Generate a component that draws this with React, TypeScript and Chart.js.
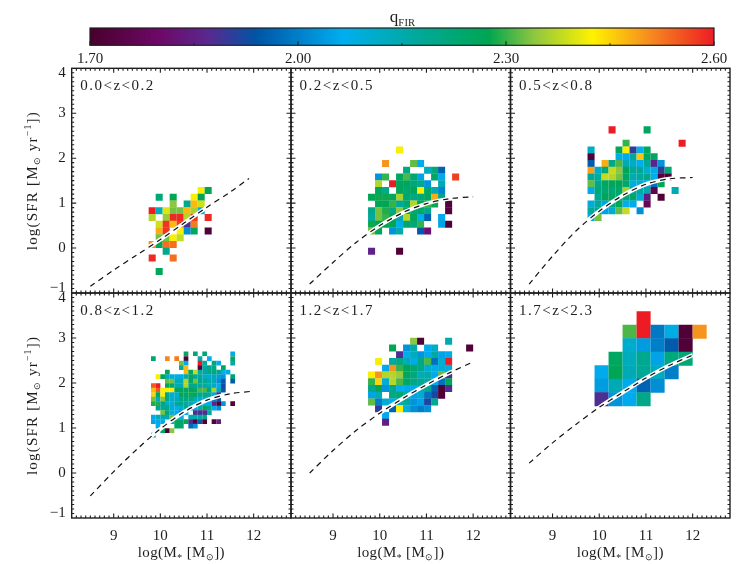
import React, { useEffect, useRef } from "react";
import { Chart, registerables } from "chart.js";

Chart.register(...registerables);

const FONT = '"Liberation Serif", serif';
const INK = "#1e1e1e";

const massTicks = [9, 10, 11, 12];
const sfrTicks = [-1, 0, 1, 2, 3, 4];
const qTicks = [1.7, 2.0, 2.3, 2.6];
const qMinorTicks = [1.85, 2.15, 2.45];
const qRange = [1.7, 2.6];

const panelLabels = ["0.0<z<0.2", "0.2<z<0.5", "0.5<z<0.8", "0.8<z<1.2", "1.2<z<1.7", "1.7<z<2.3"];

// centres of the mass bins
const massA = [9.825, 9.975, 10.125, 10.275, 10.425, 10.575, 10.725, 10.875, 11.025, 11.175, 11.325, 11.475, 11.625, 11.775, 11.925];
const massB = [9.85, 9.95, 10.05, 10.15, 10.25, 10.35, 10.45, 10.55, 10.65, 10.75, 10.85, 10.95, 11.05, 11.15, 11.25, 11.35, 11.45, 11.55];
const massC = [10.05, 10.35, 10.65, 10.95, 11.25, 11.55, 11.85, 12.15];

// each row: [log SFR of the bin, { mass bin index: qFIR }]
type Row = [number, Record<number, number>];

const rows1: Row[] = [
  [1.28, { 7: 2.42, 8: 2.27 }],
  [1.13, { 1: 2.22, 3: 2.27, 6: 2.42, 7: 2.27 }],
  [0.98, { 3: 2.34, 5: 2.2, 6: 2.47, 7: 2.39 }],
  [0.83, { 0: 2.6, 1: 2.13, 2: 2.4, 3: 2.33, 4: 2.33, 5: 2.47, 6: 2.36, 7: 2.06 }],
  [0.68, { 0: 2.37, 2: 2.35, 3: 2.59, 4: 2.59, 5: 2.37, 6: 2.58, 8: 2.59 }],
  [0.53, { 1: 2.39, 2: 2.58, 3: 2.47, 4: 2.57, 5: 1.88, 6: 2.52 }],
  [0.38, { 1: 2.48, 2: 2.58, 4: 2.42, 5: 2.02, 6: 2.25, 8: 1.72 }],
  [0.23, { 1: 2.33, 2: 2.33, 3: 2.42, 4: 2.38 }],
  [0.08, { 0: 2.5, 1: 2.26, 2: 2.53, 3: 2.53 }],
  [-0.07, { 2: 2.2 }],
  [-0.22, { 0: 2.59, 3: 2.53 }],
  [-0.52, { 1: 2.26 }],
];

const rows2: Row[] = [
  [2.18, { 4: 2.42 }],
  [1.88, { 2: 2.5, 6: 2.32, 7: 2.06 }],
  [1.73, { 5: 2.2, 8: 2.13, 9: 2.22, 10: 1.96 }],
  [1.58, { 1: 2.03, 2: 2.3, 4: 2.25, 5: 2.31, 6: 2.23, 7: 2.05, 9: 2.25, 10: 2.06, 12: 2.57 }],
  [1.43, { 1: 2.37, 3: 2.6, 4: 2.26, 5: 2.26, 6: 2.22, 7: 2.19, 8: 2.03, 10: 2.14 }],
  [1.28, { 1: 2.26, 2: 2.2, 4: 2.26, 5: 2.23, 6: 2.27, 7: 2.42, 8: 2.24, 9: 2.14, 10: 2.01 }],
  [1.13, { 0: 2.27, 1: 2.28, 2: 2.28, 3: 2.25, 4: 2.36, 5: 2.24, 6: 2.2, 7: 2.22, 8: 2.25, 9: 2.48, 10: 2.2 }],
  [0.98, { 1: 2.27, 2: 2.27, 3: 2.3, 4: 2.18, 5: 2.23, 6: 2.37, 7: 2.27, 8: 2.3, 9: 2.28, 11: 1.73 }],
  [0.83, { 0: 2.2, 1: 2.33, 2: 2.29, 3: 2.2, 4: 2.34, 5: 2.25, 6: 2.22, 7: 2.25, 8: 2.2, 11: 1.73 }],
  [0.68, { 0: 2.17, 1: 2.33, 2: 2.3, 3: 2.27, 4: 2.15, 5: 2.37, 6: 2.27, 7: 2.07, 8: 1.96, 10: 2.06 }],
  [0.53, { 0: 2.28, 1: 2.27, 2: 2.27, 3: 2.27, 4: 2.07, 5: 2.24, 6: 2.22, 7: 2.3, 10: 2.05, 11: 1.72 }],
  [0.38, { 0: 2.33, 1: 2.26, 3: 2.03, 4: 2.15, 7: 1.95, 8: 1.82 }],
  [-0.07, { 0: 1.86, 4: 1.72 }],
];

const rows3: Row[] = [
  [2.63, { 3: 2.6, 8: 2.26 }],
  [2.33, { 5: 2.3, 13: 2.6 }],
  [2.18, { 0: 2.12, 4: 2.26, 5: 2.42, 6: 1.9, 7: 2.07, 8: 2.26 }],
  [2.03, { 0: 1.72, 4: 2.08, 5: 2.06, 6: 2.17, 7: 2.46, 8: 2.25, 9: 2.25 }],
  [1.88, { 0: 1.95, 2: 2.48, 3: 2.2, 4: 2.31, 5: 2.14, 6: 2.12, 7: 2.07, 8: 2.18, 9: 1.86, 10: 2.03 }],
  [1.73, { 0: 2.49, 1: 2.12, 2: 2.22, 3: 2.38, 4: 2.34, 5: 2.27, 6: 2.18, 7: 2.18, 8: 2.1, 9: 2.08, 10: 1.9, 11: 2.22 }],
  [1.58, { 0: 2.18, 1: 2.17, 2: 2.38, 3: 2.37, 4: 2.33, 5: 2.25, 6: 2.15, 7: 2.17, 8: 2.2, 9: 2.07, 10: 1.72, 11: 1.72 }],
  [1.43, { 0: 2.32, 1: 2.2, 2: 2.25, 3: 2.26, 4: 2.27, 5: 2.24, 6: 2.1, 7: 2.1, 8: 2.1, 9: 1.98, 10: 2.26 }],
  [1.28, { 0: 2.06, 1: 2.22, 2: 2.23, 3: 2.23, 4: 2.24, 5: 2.36, 6: 2.16, 7: 2.16, 8: 2.15, 9: 1.76, 12: 2.14 }],
  [1.13, { 1: 2.18, 2: 2.27, 3: 2.25, 4: 2.22, 5: 2.22, 6: 2.24, 7: 2.1, 8: 1.84, 10: 1.72 }],
  [0.98, { 0: 2.1, 1: 2.17, 2: 2.05, 3: 2.2, 4: 2.26, 5: 2.07, 6: 2.06, 8: 1.77 }],
  [0.83, { 0: 2.17, 1: 2.2, 2: 2.05, 3: 2.1, 4: 2.32, 5: 2.38, 7: 2.02 }],
  [0.68, { 0: 2.06, 1: 2.33 }],
];

const rows4: Row[] = [
  [2.65, { 7: 2.25, 9: 2.22, 11: 2.23, 17: 2.06 }],
  [2.54, { 0: 2.24, 3: 2.51, 5: 2.52, 7: 1.72, 10: 2.15, 12: 2.07, 17: 2.24 }],
  [2.44, { 6: 2.33, 7: 2.06, 10: 2.6, 11: 2.17, 13: 2.22, 14: 2.07, 17: 2.15 }],
  [2.34, { 6: 2.17, 7: 2.47, 10: 1.72, 11: 2.16, 12: 2.2, 13: 2.2, 15: 2.27 }],
  [2.24, { 3: 2.27, 7: 2.47, 8: 2.25, 9: 2.38, 10: 2.16, 11: 2.17, 12: 2.2, 13: 2.21, 14: 2.2, 15: 2.08, 16: 2.06 }],
  [2.14, { 1: 2.42, 2: 2.26, 3: 2.12, 4: 2.1, 5: 2.07, 6: 2.06, 7: 2.15, 8: 2.25, 9: 2.18, 10: 2.17, 11: 2.12, 12: 2.1, 13: 2.14, 14: 2.04, 15: 2.03, 17: 2.24 }],
  [2.04, { 3: 2.32, 4: 2.33, 5: 2.14, 6: 2.14, 7: 2.37, 8: 2.24, 9: 2.33, 10: 2.2, 11: 2.18, 12: 2.15, 13: 2.14, 14: 2.02, 15: 1.95, 17: 1.95 }],
  [1.94, { 0: 2.55, 1: 2.6, 3: 2.26, 4: 2.24, 5: 2.14, 6: 2.14, 7: 2.37, 8: 2.2, 9: 2.18, 10: 2.17, 11: 2.16, 12: 2.14, 13: 2.12, 14: 2.06, 15: 1.92 }],
  [1.84, { 0: 2.47, 1: 2.55, 2: 2.42, 3: 2.42, 4: 2.42, 5: 2.26, 6: 2.26, 7: 2.24, 8: 2.26, 9: 2.24, 10: 2.31, 11: 2.31, 12: 2.22, 13: 2.36, 14: 2.14, 15: 1.95 }],
  [1.74, { 0: 2.45, 1: 2.25, 2: 2.42, 3: 2.2, 4: 2.1, 5: 2.1, 6: 2.27, 7: 2.25, 8: 2.28, 9: 2.25, 10: 2.2, 11: 2.2, 12: 2.18, 13: 2.1, 14: 1.9 }],
  [1.64, { 0: 2.33, 1: 2.13, 2: 2.34, 3: 2.2, 4: 2.1, 5: 2.14, 6: 2.2, 7: 2.2, 8: 2.2, 9: 2.14, 10: 2.1, 11: 2.1, 12: 2.07, 13: 2.0, 14: 1.95 }],
  [1.54, { 0: 2.29, 1: 2.29, 2: 2.2, 3: 2.13, 4: 2.08, 5: 2.18, 6: 2.2, 7: 2.17, 8: 2.14, 9: 2.1, 10: 2.07, 11: 2.07, 12: 2.06, 13: 1.86, 14: 1.72, 15: 2.03, 17: 1.72 }],
  [1.44, { 1: 2.2, 2: 2.18, 3: 2.2, 4: 2.1, 5: 2.07, 6: 2.12, 7: 2.2, 8: 2.1, 9: 2.06, 10: 2.14, 11: 2.25, 12: 2.2, 13: 2.06, 14: 2.02 }],
  [1.34, { 2: 2.33, 3: 2.22, 4: 2.08, 5: 2.06, 6: 2.03, 7: 2.06, 9: 1.88, 10: 1.88, 11: 1.88, 12: 2.16 }],
  [1.24, { 0: 2.06, 1: 2.14, 2: 2.14, 3: 2.14, 4: 2.33, 5: 2.2, 6: 2.07, 8: 2.15, 9: 2.14, 10: 2.16, 11: 2.2 }],
  [1.14, { 0: 2.05, 1: 2.06, 2: 2.06, 4: 2.06, 5: 2.25, 6: 2.26, 7: 2.26, 8: 1.88, 9: 1.72, 10: 1.95, 11: 1.72, 13: 1.72, 14: 1.85 }],
  [1.04, { 1: 2.06, 5: 2.25, 6: 2.24, 8: 1.97, 9: 2.03 }],
  [0.94, { 2: 2.25, 3: 1.72, 4: 2.34 }],
  [0.84, { 0: 2.25 }],
];

const rows5: Row[] = [
  [2.93, { 6: 2.34, 7: 1.72, 11: 2.15 }],
  [2.78, { 3: 2.27, 5: 2.03, 6: 2.15, 8: 2.06, 9: 2.12, 14: 1.72 }],
  [2.63, { 4: 1.88, 5: 2.07, 6: 2.13, 7: 2.03, 8: 2.06, 9: 2.17, 10: 2.05, 11: 2.06 }],
  [2.48, { 1: 2.42, 3: 2.17, 4: 2.2, 5: 2.14, 6: 2.08, 7: 2.2, 8: 2.31, 9: 1.98, 10: 2.1, 11: 2.6 }],
  [2.33, { 2: 2.06, 3: 2.5, 4: 2.3, 5: 2.27, 6: 2.23, 7: 2.2, 8: 2.1, 9: 2.08, 10: 2.1, 11: 2.1 }],
  [2.18, { 0: 2.43, 1: 2.5, 2: 2.37, 3: 2.37, 4: 2.35, 5: 2.25, 6: 2.22, 7: 2.13, 8: 2.15, 9: 2.06, 10: 2.32, 11: 1.88 }],
  [2.03, { 0: 2.3, 1: 2.45, 2: 2.1, 3: 2.37, 4: 2.31, 5: 2.25, 6: 2.2, 7: 2.18, 8: 2.16, 9: 2.08, 10: 1.98, 11: 2.26 }],
  [1.88, { 0: 2.2, 1: 2.27, 2: 2.03, 3: 2.2, 4: 2.07, 5: 2.06, 6: 2.06, 7: 2.13, 8: 2.18, 9: 1.96, 10: 1.72, 11: 1.88 }],
  [1.73, { 0: 2.05, 1: 2.14, 3: 2.2, 4: 2.23, 5: 2.17, 6: 2.05, 7: 2.1, 8: 1.98, 9: 1.92, 10: 1.72 }],
  [1.58, { 0: 2.32, 1: 2.0, 2: 2.1, 3: 2.07, 4: 2.13, 5: 2.18, 6: 2.03, 7: 2.05, 8: 1.92, 9: 2.18 }],
  [1.43, { 1: 1.9, 3: 1.96, 4: 2.42, 5: 2.08, 6: 2.02, 7: 2.0, 8: 2.02 }],
  [1.28, { 2: 2.06 }],
  [1.13, { 2: 1.85 }],
];

const rows6: Row[] = [
  [3.44, { 3: 2.6 }],
  [3.14, { 2: 2.31, 3: 2.6, 4: 1.99, 5: 2.08, 6: 1.72, 7: 2.5 }],
  [2.84, { 2: 2.11, 3: 2.04, 4: 2.0, 5: 1.95, 6: 1.72 }],
  [2.54, { 1: 2.25, 2: 2.13, 3: 2.19, 4: 2.05, 5: 2.21, 6: 2.22 }],
  [2.24, { 0: 2.06, 1: 2.27, 2: 2.14, 3: 2.18, 4: 2.13, 5: 2.0 }],
  [1.94, { 0: 2.04, 1: 2.14, 2: 2.06, 3: 1.96, 4: 2.02 }],
  [1.64, { 0: 1.88, 1: 2.03, 2: 2.06, 3: 2.2 }],
];

// main-sequence curves
const curveMass = [8.5, 9, 9.5, 10, 10.5, 11, 11.5, 12];
const curveMass1 = [8.5, 9, 9.5, 10, 10.5, 11, 11.5, 11.9];
const curve1 = [-0.85, -0.49, -0.15, 0.19, 0.55, 0.91, 1.25, 1.55];
const curve2 = [-0.8, -0.32, 0.13, 0.5, 0.79, 0.99, 1.1, 1.14];
const curve3 = [-0.8, -0.18, 0.38, 0.82, 1.17, 1.42, 1.54, 1.57];
const curve4 = [-0.51, 0.03, 0.53, 0.98, 1.35, 1.62, 1.76, 1.82];
const curve5 = [0.0, 0.5, 0.95, 1.33, 1.66, 1.96, 2.23, 2.47];
const curve6 = [0.22, 0.67, 1.08, 1.46, 1.79, 2.11, 2.39, 2.62];

const panels = [
  { rows: rows1, mass: massA, bin: 0.15, curveX: curveMass1, curve: curve1, col: 0, row: 0 },
  { rows: rows2, mass: massA, bin: 0.15, curveX: curveMass, curve: curve2, col: 1, row: 0 },
  { rows: rows3, mass: massA, bin: 0.15, curveX: curveMass, curve: curve3, col: 2, row: 0 },
  { rows: rows4, mass: massB, bin: 0.1, curveX: curveMass, curve: curve4, col: 0, row: 1 },
  { rows: rows5, mass: massA, bin: 0.15, curveX: curveMass, curve: curve5, col: 1, row: 1 },
  { rows: rows6, mass: massC, bin: 0.3, curveX: curveMass, curve: curve6, col: 2, row: 1 },
];

// colour bar stops: [qFIR, colour]
const colourStops: [number, number[]][] = [
  [1.7, [72, 0, 44]],
  [1.8, [110, 8, 104]],
  [1.87, [90, 40, 142]],
  [1.94, [0, 84, 166]],
  [2.065, [0, 174, 239]],
  [2.17, [0, 169, 157]],
  [2.275, [0, 166, 81]],
  [2.34, [141, 198, 63]],
  [2.425, [255, 242, 0]],
  [2.5, [247, 148, 29]],
  [2.6, [237, 28, 36]],
];

function qColour(q: number): string {
  for (let i = 1; i < colourStops.length; i++) {
    const [b, cb] = colourStops[i];
    const [a, ca] = colourStops[i - 1];
    if (q <= b) {
      const t = Math.max(0, (q - a) / (b - a));
      const c = ca.map((v, k) => Math.round(v + (cb[k] - v) * t));
      return `rgb(${c[0]},${c[1]},${c[2]})`;
    }
  }
  return "rgb(237,28,36)";
}

// layout
const colEdges = [71.7, 291, 510.5, 730];
const rowEdges = [68.3, 293, 518];
const BAR = { left: 90, right: 714, top: 28, bottom: 45.3 };
const PAGE_W = 752;
const PAGE_H = 564;

type Run = { t: string; s?: number; dy?: number };

function drawRuns(ctx: CanvasRenderingContext2D, runs: Run[], cx: number, cy: number, size: number, rotate: boolean, spacing: number) {
  ctx.save();
  ctx.translate(cx, cy);
  if (rotate) ctx.rotate(-Math.PI / 2);
  ctx.fillStyle = INK;
  ctx.textBaseline = "alphabetic";
  ctx.textAlign = "left";
  (ctx as any).letterSpacing = spacing + "px";
  const fontFor = (r: Run) => `${size * (r.s ?? 1)}px ${FONT}`;
  let w = 0;
  for (const r of runs) {
    ctx.font = fontFor(r);
    w += ctx.measureText(r.t).width;
  }
  let x = -w / 2;
  for (const r of runs) {
    ctx.font = fontFor(r);
    ctx.fillText(r.t, x, r.dy ?? 0);
    x += ctx.measureText(r.t).width;
  }
  ctx.restore();
}

const xTitleRuns: Run[] = [{ t: "log(M" }, { t: "*", s: 0.65, dy: 4 }, { t: " [M" }, { t: "⊙", s: 0.6, dy: 3 }, { t: "])" }];
const yTitleRuns: Run[] = [{ t: "log(SFR [M" }, { t: "⊙", s: 0.6, dy: 3 }, { t: " yr" }, { t: "−1", s: 0.65, dy: -6 }, { t: "])" }];
const qTitleRuns: Run[] = [{ t: "q" }, { t: "FIR", s: 0.62, dy: 4 }];

function PanelChart({ index }: { index: number }) {
  const ref = useRef<HTMLCanvasElement>(null);
  useEffect(() => {
    const p = panels[index];
    const left = colEdges[p.col];
    const right = colEdges[p.col + 1];
    const top = rowEdges[p.row];
    const bottom = rowEdges[p.row + 1];
    const showY = p.col === 0;
    const showX = p.row === 1;

    const cells = p.rows.flatMap(([y, byCol]) =>
      Object.entries(byCol).map(([c, q]) => ({ x: p.mass[Number(c)], y, q }))
    );
    const curvePoints = p.curveX.map((x, i) => ({ x, y: p.curve[i] }));

    const frame = {
      id: "frame",
      afterDatasetsDraw(chart: any) {
        const { ctx, chartArea: a, scales } = chart;
        const mark = (x0: number, y0: number, x1: number, y1: number) => {
          ctx.moveTo(x0, y0);
          ctx.lineTo(x1, y1);
        };
        ctx.save();
        ctx.strokeStyle = INK;
        ctx.lineWidth = 1.1;
        ctx.beginPath();
        for (let v = 8.2; v < 12.75; v += 0.1) {
          const px = scales.x.getPixelForValue(v);
          const major = massTicks.some((m) => Math.abs(m - v) < 0.01);
          const len = major ? 4.5 : 2.5;
          mark(px, a.bottom, px, a.bottom - len);
          mark(px, a.top, px, a.top + len);
        }
        for (let v = -0.9; v < 3.95; v += 0.1) {
          const py = scales.y.getPixelForValue(v);
          const major = sfrTicks.some((m) => Math.abs(m - v) < 0.01);
          const len = major ? 4.5 : 2.5;
          mark(a.left, py, a.left + len, py);
          mark(a.right, py, a.right - len, py);
        }
        ctx.stroke();
        ctx.lineWidth = 1.4;
        ctx.strokeRect(a.left, a.top, a.right - a.left, a.bottom - a.top);
        ctx.restore();

        ctx.save();
        ctx.fillStyle = INK;
        ctx.font = `15px ${FONT}`;
        (ctx as any).letterSpacing = "1.5px";
        ctx.textBaseline = "middle";
        ctx.textAlign = "left";
        ctx.fillText(panelLabels[index], a.left + 8.5, a.top + 18);
        ctx.restore();

        if (showX) drawRuns(ctx, xTitleRuns, (a.left + a.right) / 2, 557, 15, false, 0.4);
        if (showY) drawRuns(ctx, yTitleRuns, 37, (a.top + a.bottom) / 2, 15, true, 1.2);
      },
    };

    const chart = new Chart(ref.current!, {
      type: "scatter",
      plugins: [frame],
      data: {
        datasets: [
          {
            label: "qFIR",
            data: cells,
            order: 3,
            pointStyle: "rect",
            pointBorderWidth: 0,
            pointBackgroundColor: (c: any) => qColour(c.raw?.q ?? 2),
            pointRadius: (c: any) => {
              const s = c.chart.scales.x;
              const w = Math.abs(s.getPixelForValue(10 + p.bin) - s.getPixelForValue(10));
              return (w / 2 + 0.02) / Math.SQRT1_2;
            },
          },
          {
            label: "curve halo",
            data: curvePoints,
            order: 2,
            showLine: true,
            borderColor: "#ffffff",
            borderWidth: 4,
            pointRadius: 0,
            tension: 0.3,
          },
          {
            label: "curve",
            data: curvePoints,
            order: 1,
            showLine: true,
            borderColor: "#111111",
            borderWidth: 1.2,
            borderDash: [5.5, 4.5],
            pointRadius: 0,
            tension: 0.3,
          },
        ],
      } as any,
      options: {
        responsive: false,
        animation: false,
        events: [],
        layout: {
          padding: { left: left - 60, right: PAGE_W - right, top, bottom: PAGE_H - bottom - 40 },
        },
        plugins: { legend: { display: false }, tooltip: { enabled: false }, title: { display: false } },
        scales: {
          x: {
            type: "linear",
            min: 8.1,
            max: 12.8,
            grid: { display: false, drawTicks: false },
            border: { display: false },
            afterBuildTicks: (s: any) => {
              s.ticks = massTicks.map((value) => ({ value }));
            },
            afterFit: (s: any) => {
              s.height = 40;
            },
            ticks: {
              display: showX,
              color: INK,
              padding: 9,
              maxRotation: 0,
              autoSkip: false,
              font: { family: FONT, size: 15 },
              callback: (v: any) => String(v),
            },
          },
          y: {
            type: "linear",
            min: -1,
            max: 4,
            grid: { display: false, drawTicks: false },
            border: { display: false },
            afterBuildTicks: (s: any) => {
              s.ticks = sfrTicks.map((value) => ({ value }));
            },
            afterFit: (s: any) => {
              s.width = 60;
            },
            ticks: {
              display: showY,
              color: INK,
              padding: 6,
              autoSkip: false,
              font: { family: FONT, size: 15, lineHeight: 0.68 },
              callback: (v: any) => {
                if (v === -1) return ["−1", ""];
                if (v === 4) return ["", "4"];
                return String(v);
              },
            },
          },
        },
      } as any,
    });
    return () => chart.destroy();
  }, [index]);
  return <canvas ref={ref} width={PAGE_W} height={PAGE_H} style={{ position: "absolute", left: 0, top: 0 }} />;
}

function ColourBar() {
  const ref = useRef<HTMLCanvasElement>(null);
  useEffect(() => {
    const decor = {
      id: "barFrame",
      afterDatasetsDraw(chart: any) {
        const { ctx, chartArea: a, scales } = chart;
        ctx.save();
        ctx.strokeStyle = INK;
        ctx.lineWidth = 1.1;
        ctx.beginPath();
        for (const v of qTicks) {
          const px = scales.x.getPixelForValue(v);
          ctx.moveTo(px, a.bottom);
          ctx.lineTo(px, a.bottom - 4);
        }
        for (const v of qMinorTicks) {
          const px = scales.x.getPixelForValue(v);
          ctx.moveTo(px, a.bottom);
          ctx.lineTo(px, a.bottom - 2);
        }
        ctx.stroke();
        ctx.lineWidth = 1.2;
        ctx.strokeRect(a.left, a.top, a.right - a.left, a.bottom - a.top);
        ctx.restore();
        drawRuns(ctx, qTitleRuns, (a.left + a.right) / 2 + 0.5, 22, 17, false, 0.2);
      },
    };
    const chart = new Chart(ref.current!, {
      type: "bar",
      plugins: [decor],
      data: {
        labels: ["qFIR"],
        datasets: [
          {
            label: "qFIR scale",
            data: [qRange],
            barPercentage: 1,
            categoryPercentage: 1,
            borderWidth: 0,
            backgroundColor: (c: any) => {
              const { chart: ch } = c;
              const a = ch.chartArea;
              if (!a) return "#888";
              const x = ch.scales.x;
              const g = ch.ctx.createLinearGradient(a.left, 0, a.right, 0);
              for (const [q, rgb] of colourStops) {
                const pos = (x.getPixelForValue(q) - a.left) / (a.right - a.left);
                g.addColorStop(Math.min(1, Math.max(0, pos)), `rgb(${rgb[0]},${rgb[1]},${rgb[2]})`);
              }
              return g;
            },
          },
        ],
      } as any,
      options: {
        indexAxis: "y",
        responsive: false,
        animation: false,
        events: [],
        layout: { padding: { left: BAR.left, right: PAGE_W - BAR.right, top: BAR.top, bottom: PAGE_H - BAR.bottom - 30 } },
        plugins: { legend: { display: false }, tooltip: { enabled: false }, title: { display: false } },
        scales: {
          y: { display: false },
          x: {
            type: "linear",
            min: qRange[0],
            max: qRange[1],
            grid: { display: false, drawTicks: false },
            border: { display: false },
            afterBuildTicks: (s: any) => {
              s.ticks = qTicks.map((value) => ({ value }));
            },
            afterFit: (s: any) => {
              s.height = 30;
            },
            ticks: {
              color: INK,
              padding: 5,
              maxRotation: 0,
              autoSkip: false,
              font: { family: FONT, size: 15 },
              callback: (v: any) => Number(v).toFixed(2),
            },
          },
        },
      } as any,
    });
    return () => chart.destroy();
  }, []);
  return <canvas ref={ref} width={PAGE_W} height={PAGE_H} style={{ position: "absolute", left: 0, top: 0 }} />;
}

export default function App() {
  return (
    <div style={{ position: "absolute", left: 0, top: 0, width: PAGE_W, height: PAGE_H, background: "#fff", overflow: "hidden" }}>
      <ColourBar />
      {panels.map((_, i) => (
        <PanelChart key={i} index={i} />
      ))}
    </div>
  );
}
